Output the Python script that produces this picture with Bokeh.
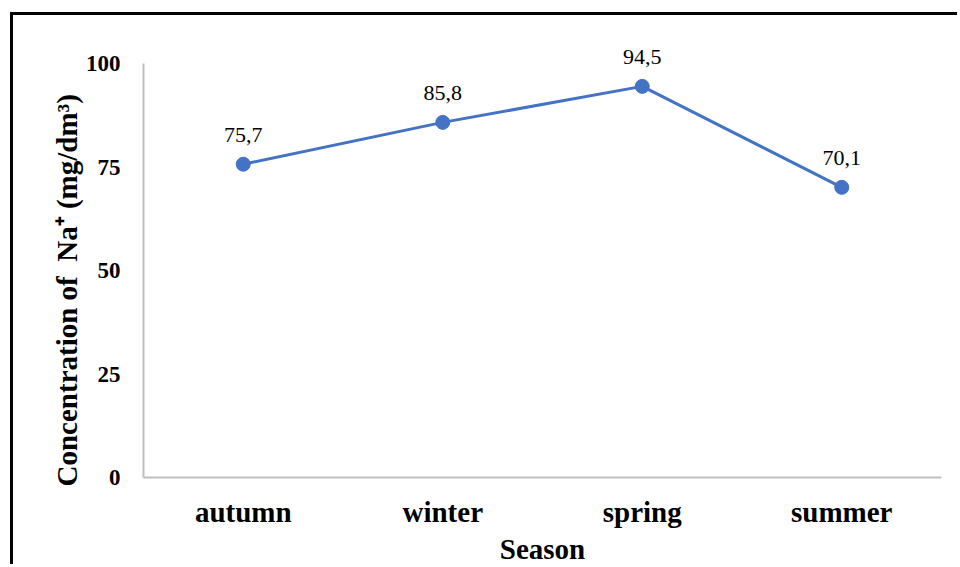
from bokeh.plotting import figure
from bokeh.models import ColumnDataSource, FactorRange, Range1d, FixedTicker, LabelSet
from bokeh.embed import file_html
from bokeh.resources import INLINE

seasons = ["autumn", "winter", "spring", "summer"]
na_values = [75.7, 85.8, 94.5, 70.1]
y_ticks = [0, 25, 50, 75, 100]
y_axis_max = 100
x_title = "Season"
y_title = "Concentration of\u00a0\u00a0Na\u207a (mg/dm\u00b3)" + "\u00a0" * 10

labels = [f"{v:.1f}".replace(".", ",") for v in na_values]
src = ColumnDataSource(dict(season=seasons, value=na_values, label=labels))

FONT = "Liberation Serif"
BLUE = "#4472C4"
GRAY = "#BFBFBF"

p = figure(
    width=947, height=552,
    x_range=FactorRange(*seasons, range_padding=0),
    y_range=Range1d(0, 108),  # headroom so the top data label is not clipped
    output_backend="svg", toolbar_location=None,
    min_border_left=130, min_border_right=19,
    min_border_top=15, min_border_bottom=89,
    styles={"border-top": "3px solid black", "border-left": "3px solid black",
            "margin-left": "10px", "margin-top": "12px"},
)
p.outline_line_color = None
p.xgrid.visible = False
p.ygrid.visible = False

p.line("season", "value", source=src, line_color=BLUE, line_width=3)
p.scatter("season", "value", source=src, size=14, fill_color=BLUE, line_color=BLUE)

p.add_layout(LabelSet(x="season", y="value", text="label", source=src,
                      text_align="center", text_baseline="middle", y_offset=29,
                      text_font=FONT, text_font_size="22px", text_color="#000000"))

for ax in (p.xaxis[0], p.yaxis[0]):
    ax.major_tick_line_color = None
    ax.minor_tick_line_color = None
    ax.axis_line_color = GRAY
    ax.axis_line_width = 2
    ax.major_label_text_font = FONT
    ax.major_label_text_font_style = "bold"
    ax.major_label_text_color = "#000000"
    ax.axis_label_text_font = FONT
    ax.axis_label_text_font_style = "bold"
    ax.axis_label_text_color = "#000000"

p.yaxis.ticker = FixedTicker(ticks=y_ticks)
p.yaxis.bounds = (0, y_axis_max)
p.yaxis.major_label_text_font_size = "23px"
p.yaxis.major_label_standoff = 17
p.yaxis.axis_label = y_title
p.yaxis.axis_label_text_font_size = "29px"
p.yaxis.axis_label_standoff = 0

p.xaxis.major_label_text_font_size = "29px"
p.xaxis.major_label_standoff = 12
p.xaxis.axis_label = x_title
p.xaxis.axis_label_text_font_size = "29px"
p.xaxis.axis_label_standoff = 2

open("out.html", "w").write(file_html(p, INLINE))
